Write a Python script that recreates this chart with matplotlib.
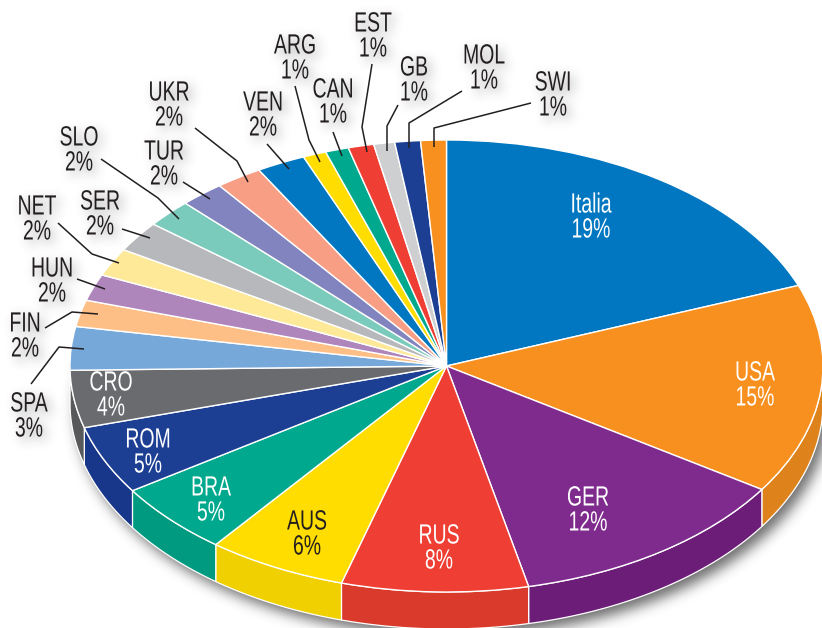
import numpy as np
import matplotlib
matplotlib.use("Agg")
import matplotlib.pyplot as plt
import matplotlib.patheffects as pe
from matplotlib.backends.backend_agg import FigureCanvasAgg
from matplotlib.patches import Ellipse, Polygon
from matplotlib.transforms import Affine2D

categories = ["Italia", "USA", "GER", "RUS", "AUS", "BRA", "ROM", "CRO", "SPA", "FIN", "HUN", "NET",
              "SER", "SLO", "TUR", "UKR", "VEN", "ARG", "CAN", "EST", "GB", "MOL", "SWI"]
percent_labels = [19, 15, 12, 8, 6, 5, 5, 4, 3, 2, 2, 2, 2, 2, 2, 2, 2, 1, 1, 1, 1, 1, 1]
# slice sizes as measured on the picture (the printed labels are rounded)
shares = [19.2, 15.0, 12.3, 8.0, 6.0, 5.2, 4.9, 4.1, 3.1, 1.9, 1.9, 2.0,
          2.2, 2.0, 1.9, 2.0, 2.1, 1.0, 1.0, 1.1, 0.9, 1.1, 1.1]
top_colors = ["#0077C0", "#F7901E", "#7F2B8E", "#EF3E33", "#FFDD00", "#00A88D", "#1C3F94", "#6A6B6E",
              "#77A8DA", "#FDBF85", "#AF86BC", "#FEE998", "#B6B8BB", "#7ACBBC", "#8184BE", "#F89E85",
              "#0077C0", "#FFDD00", "#00A88D", "#EF3E33", "#CDCFD1", "#1C3F94", "#F7901E"]
side_colors = ["#005F9A", "#DE821C", "#6C1D78", "#DA3A2C", "#F0D000", "#009A80", "#18368A", "#58595B"]

W, H = 822, 628
CX, CY, RX, RY, DEPTH = 446.5, 366.0, 376.5, 226.0, 37.0
FS, SQUEEZE = 20, 0.70
plt.rcParams["font.family"] = ["Liberation Sans", "DejaVu Sans"]


def P(px, py):
    """picture pixel -> data units of the squashed unit pie"""
    return (px - CX) / RX, (CY - py) / RY


class Squeeze(pe.AbstractPathEffect):
    """draws a text condensed horizontally about its centre line"""
    def __init__(self, cx, sx):
        super().__init__()
        self.cx, self.sx = cx, sx

    def draw_path(self, renderer, gc, tpath, affine, rgbFace=None):
        squeeze = Affine2D().translate(-self.cx, 0).scale(self.sx, 1).translate(self.cx, 0)
        renderer.draw_path(gc, tpath, affine + squeeze, rgbFace)


def new_axes(fig):
    ax = fig.add_axes([0, 0, 1, 1])
    ax.set_xlim(-CX / RX, (W - CX) / RX)
    ax.set_ylim((CY - H) / RY, CY / RY)
    ax.axis("off")
    return ax


def blur(a, sigma):
    r = int(3 * sigma)
    k = np.exp(-0.5 * (np.arange(-r, r + 1) / sigma) ** 2)
    k /= k.sum()
    a = np.apply_along_axis(lambda v: np.convolve(v, k, mode="same"), 0, a)
    return np.apply_along_axis(lambda v: np.convolve(v, k, mode="same"), 1, a)


def shifted(a, dx, dy):
    out = np.zeros_like(a)
    out[dy:, dx:] = a[:a.shape[0] - dy, :a.shape[1] - dx]
    return out


def layer_alpha(draw):
    f = plt.Figure(figsize=(W / 100, H / 100), dpi=100)
    c = FigureCanvasAgg(f)
    f.patch.set_alpha(0)
    draw(new_axes(f))
    c.draw()
    return np.asarray(c.buffer_rgba())[:, :, 3].astype(float) / 255


# label positions (picture pixels)
inner_pos = {"Italia": (591, 218), "USA": (755, 386), "GER": (588, 511), "RUS": (439, 549),
             "AUS": (307, 535), "BRA": (211, 501), "ROM": (148, 453), "CRO": (111, 396)}
outer_pos = {"EST": (373, 37), "ARG": (295, 59), "GB": (414, 81), "CAN": (333, 103), "MOL": (484, 69),
             "SWI": (553, 96), "VEN": (263, 116), "UKR": (169, 106), "TUR": (164, 165), "SLO": (79, 151),
             "SER": (100, 215), "NET": (37, 220), "HUN": (52, 282), "FIN": (25, 337), "SPA": (29, 417)}
leaders = {"UKR": [(195, 128), (237, 161), (248, 182)], "VEN": [(267, 144), (289, 169)],
           "SLO": [(101, 159), (158, 198), (179, 219)], "TUR": [(183, 182), (210, 199)],
           "SER": [(122, 229), (150, 238)], "NET": [(58, 223), (92, 254), (119, 263)],
           "HUN": [(77, 279), (105, 289)], "FIN": [(45, 328), (72, 312), (98, 314)],
           "SPA": [(31, 384), (59, 347), (84, 349)], "ARG": [(295, 86), (309, 140), (320, 162)],
           "CAN": [(333, 132), (342, 156)], "EST": [(372, 64), (362, 127), (367, 152)],
           "GB": [(398, 105), (387, 126), (387, 151)], "MOL": [(462, 91), (409, 123), (409, 148)],
           "SWI": [(531, 103), (434, 128), (434, 147)]}


def label(ax, name, pct, pos, color, zorder):
    x, y = P(*pos)
    t = ax.text(x, y, f"{name}\n{pct}%", color=color, fontsize=FS, ha="center", va="center",
                linespacing=0.95, zorder=zorder)
    t.set_path_effects([Squeeze(float(pos[0]), SQUEEZE)])


def draw_outer_text(ax):
    for name, pct in zip(categories, percent_labels):
        if name in outer_pos:
            label(ax, name, pct, outer_pos[name], "black", 1)


d = DEPTH / RY


def draw_body(ax):
    ax.add_patch(Ellipse((0, -d), 2, 2, fc="black", ec="none"))


text_a = shifted(blur(layer_alpha(draw_outer_text), 5.5), 4, 4) * 0.5
body_a = shifted(blur(layer_alpha(draw_body), 6.5), 6, 7) * 0.72
shadow = 1 - (1 - text_a) * (1 - body_a)
shadow_rgba = np.zeros((H, W, 4))
shadow_rgba[..., :3] = 0.2
shadow_rgba[..., 3] = shadow

fig = plt.figure(figsize=(W / 100, H / 100), dpi=100, facecolor="white")
fig.figimage(shadow_rgba, 0, 0, origin="upper", zorder=0)
ax = new_axes(fig)
ax.set_zorder(1)

# side wall
edges = 360 * np.cumsum([0] + shares) / sum(shares)
for i, c in enumerate(side_colors):
    a = max(edges[i], 90)
    b = min(edges[i + 1], 270)
    if b <= a:
        continue
    t = np.radians(np.linspace(a, b, 80))
    xs, ys = np.sin(t), np.cos(t)
    pts = np.r_[np.c_[xs, ys], np.c_[xs, ys - d][::-1]]
    ax.add_patch(Polygon(pts, closed=True, fc=c, ec="white", lw=0.9, zorder=1))

# top face
ax.pie(shares, colors=top_colors, startangle=90, counterclock=False, radius=1, center=(0, 0),
       wedgeprops=dict(edgecolor="white", linewidth=1.0, zorder=2))
ax.set_aspect("auto")
ax.set_xlim(-CX / RX, (W - CX) / RX)
ax.set_ylim((CY - H) / RY, CY / RY)
ax.axis("off")

for name, pts in leaders.items():
    q = np.array([P(*p) for p in pts])
    ax.plot(q[:, 0], q[:, 1], color="#231F20", lw=1.1, zorder=5, solid_capstyle="butt")

for name, pct in zip(categories, percent_labels):
    if name in inner_pos:
        label(ax, name, pct, inner_pos[name], "#231F20" if name == "AUS" else "white", 6)
    else:
        label(ax, name, pct, outer_pos[name], "#231F20", 6)

fig.savefig("out.png", dpi=100, facecolor="white")
